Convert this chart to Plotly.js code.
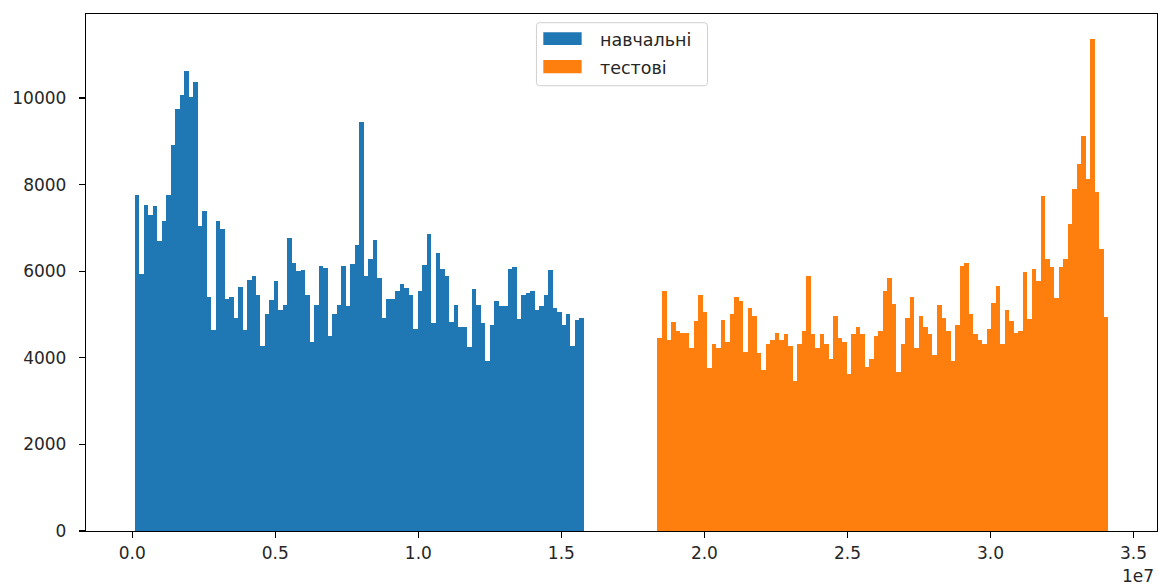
<!DOCTYPE html>
<html>
<head>
<meta charset="utf-8">
<script src="https://cdn.plot.ly/plotly-3.0.1.min.js"></script>
<style>
  html, body { margin: 0; padding: 0; background: #ffffff; }
  #chart { width: 1158px; height: 586px; }
</style>
</head>
<body>
<div id="chart"></div>
<script>
// Histogram counts per bin (100 bins each) for the training and test index ranges.
const trainCounts = [
  7772, 5945, 7541, 7304, 7503, 6689, 7157, 7772, 8908, 9746,
  10060, 10621, 10014, 10360, 7042, 7380, 5406, 4638, 7157, 6981,
  5369, 5406, 4931, 5629, 4654, 5790, 5890, 5461, 4277, 5023,
  5330, 5767, 5115, 5230, 6765, 6198, 5998, 6028, 5461, 4355,
  5230, 6113, 6074, 4500, 5023, 5230, 6113, 5191, 6166, 6597,
  9438, 5890, 6281, 6712, 5843, 4931, 5360, 5360, 5537, 5705,
  5622, 5445, 4669, 5545, 6152, 6857, 4793, 6420, 6060, 5890,
  4839, 5230, 4707, 4707, 4239, 5583, 5230, 4793, 3924, 4753,
  5322, 5191, 5191, 6060, 6106, 4899, 5445, 5498, 5545, 5106,
  5191, 5452, 6021, 5145, 5060, 4753, 5007, 4277, 4885, 4922
];
const testCounts = [
  4447, 5537, 4408, 4830, 4622, 4576, 4576, 4230, 4846, 5461,
  5060, 3756, 4323, 4230, 4885, 4355, 5014, 5406, 5322, 4138,
  5161, 4977, 4101, 3717, 4323, 4408, 4576, 4408, 4539, 4277,
  3470, 4323, 4622, 5890, 4539, 4230, 4539, 4323, 3970, 4968,
  4447, 4355, 3624, 4539, 4707, 4539, 3793, 3970, 4493, 4622,
  5537, 5852, 5237, 3663, 4316, 4931, 5406, 4230, 4968, 4714,
  4539, 4055, 5230, 4931, 4622, 3924, 4753, 6113, 6189, 5014,
  4539, 4408, 4316, 4661, 5276, 5668, 4316, 5099, 4846, 4585,
  4622, 5975, 4892, 6060, 5767, 7733, 6281, 6106, 5382, 6106,
  6281, 7081, 7903, 8479, 9131, 8133, 11373, 7825, 6505, 4938
];
// Value range covered by each histogram (bin edges span these limits).
const trainRange = [0.0084e7, 1.579e7];
const testRange = [1.836e7, 3.412e7];

const seriesNames = ["навчальні", "тестові"];
const xTickVals = [0, 0.5e7, 1.0e7, 1.5e7, 2.0e7, 2.5e7, 3.0e7, 3.5e7];
const xTickText = ["0.0", "0.5", "1.0", "1.5", "2.0", "2.5", "3.0", "3.5"];
const yTickVals = [0, 2000, 4000, 6000, 8000, 10000];
const yTickText = ["0", "2000", "4000", "6000", "8000", "10000"];
const xExponentLabel = "1e7";

const BLUE = "#1f77b4";
const ORANGE = "#ff7f0e";
const TEXT = "#262626";
const FONT = "DejaVu Sans, sans-serif";

function binTrace(counts, range, color, name) {
  const n = counts.length;
  const w = (range[1] - range[0]) / n;
  const centers = counts.map((_, i) => range[0] + (i + 0.5) * w);
  return {
    type: "bar",
    name: name,
    x: centers,
    y: counts,
    width: w,
    marker: { color: color, line: { width: 0 } },
    showlegend: false,
    hoverinfo: "x+y"
  };
}

const traces = [
  binTrace(trainCounts, trainRange, BLUE, seriesNames[0]),
  binTrace(testCounts, testRange, ORANGE, seriesNames[1])
];

// 5% padding on the x data limits, as in the classic histogram look
const span = testRange[1] - trainRange[0];
const xMin = trainRange[0] - 0.05 * span;
const xMax = testRange[1] + 0.05 * span;
const yMax = Math.max(...trainCounts, ...testCounts) * 1.05;

// Legend box drawn with shapes (wide colour patches)
function roundedRect(x0, y0, x1, y1, rx, ry) {
  return `M${x0 + rx},${y0} L${x1 - rx},${y0} Q${x1},${y0} ${x1},${y0 + ry} ` +
         `L${x1},${y1 - ry} Q${x1},${y1} ${x1 - rx},${y1} L${x0 + rx},${y1} ` +
         `Q${x0},${y1} ${x0},${y1 - ry} L${x0},${y0 + ry} Q${x0},${y0} ${x0 + rx},${y0} Z`;
}

const shapes = [
  {
    type: "path", xref: "paper", yref: "paper",
    path: roundedRect(0.4206, 0.8613, 0.5803, 0.9832, 0.003, 0.006),
    fillcolor: "rgba(255,255,255,0.8)",
    line: { color: "#d0d0d0", width: 1 }
  },
  {
    type: "rect", xref: "paper", yref: "paper",
    x0: 0.4270, x1: 0.4628, y0: 0.9400, y1: 0.9646,
    fillcolor: BLUE, line: { width: 0 }
  },
  {
    type: "rect", xref: "paper", yref: "paper",
    x0: 0.4270, x1: 0.4628, y0: 0.8853, y1: 0.9110,
    fillcolor: ORANGE, line: { width: 0 }
  }
];

const annotations = [
  {
    xref: "paper", yref: "paper", x: 0.478, y: 0.9505,
    xanchor: "left", yanchor: "middle", showarrow: false,
    text: seriesNames[0], font: { family: FONT, size: 17.5, color: TEXT }
  },
  {
    xref: "paper", yref: "paper", x: 0.478, y: 0.8955,
    xanchor: "left", yanchor: "middle", showarrow: false,
    text: seriesNames[1], font: { family: FONT, size: 17.5, color: TEXT }
  },
  {
    xref: "paper", yref: "paper", x: 0.9995, y: -0.087,
    xanchor: "right", yanchor: "middle", showarrow: false,
    text: xExponentLabel, font: { family: FONT, size: 17, color: TEXT }
  }
];

const layout = {
  width: 1158,
  height: 586,
  margin: { l: 86, r: 1, t: 14, b: 55, pad: 0 },
  paper_bgcolor: "#ffffff",
  plot_bgcolor: "#ffffff",
  bargap: 0,
  barmode: "overlay",
  showlegend: false,
  font: { family: FONT, size: 17, color: TEXT },
  xaxis: {
    range: [xMin, xMax],
    tickmode: "array",
    tickvals: xTickVals,
    ticktext: xTickText,
    ticks: "outside",
    ticklen: 6,
    tickwidth: 1.2,
    tickcolor: "#000000",
    showgrid: false,
    zeroline: false,
    showline: true,
    linecolor: "#000000",
    linewidth: 1.2,
    mirror: true,
    tickfont: { family: FONT, size: 17, color: TEXT }
  },
  yaxis: {
    range: [0, yMax],
    tickmode: "array",
    tickvals: yTickVals,
    ticktext: yTickText,
    ticks: "outside",
    ticklen: 6,
    tickwidth: 1.2,
    tickcolor: "#000000",
    ticklabelstandoff: 9,
    showgrid: false,
    zeroline: false,
    showline: true,
    linecolor: "#000000",
    linewidth: 1.2,
    mirror: true,
    tickfont: { family: FONT, size: 17, color: TEXT }
  },
  shapes: shapes,
  annotations: annotations
};

Plotly.newPlot("chart", traces, layout, { staticPlot: true, displayModeBar: false });
</script>
</body>
</html>
